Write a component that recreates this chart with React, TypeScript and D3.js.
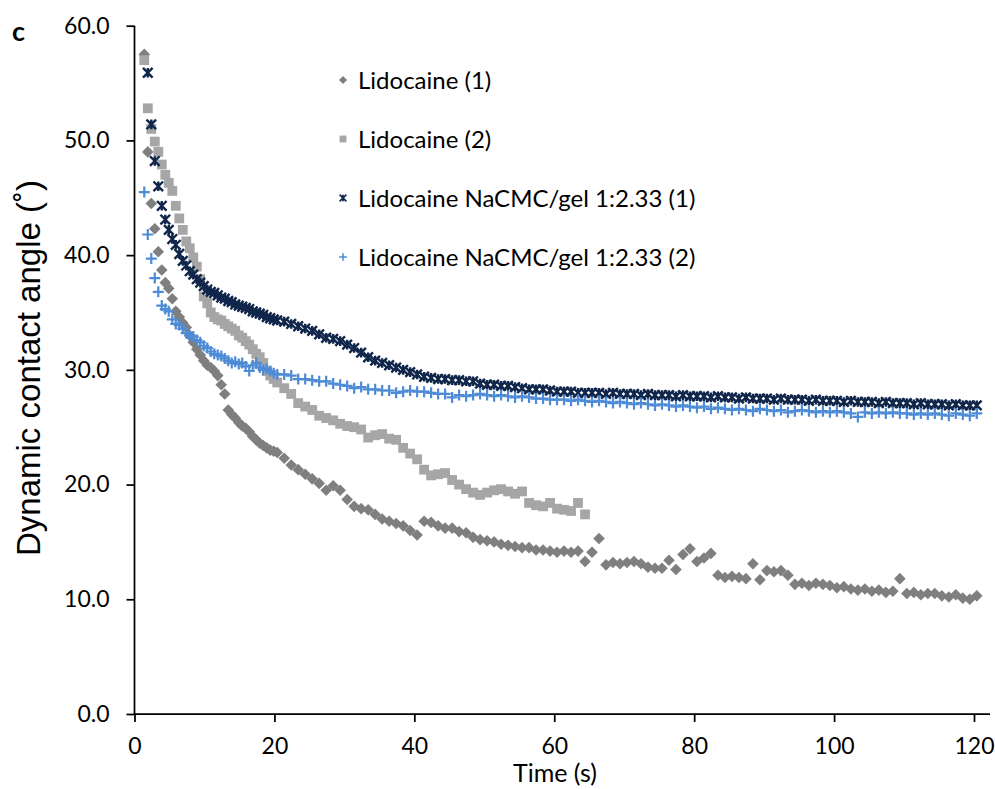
import React, { useEffect, useRef } from "react";
import * as d3 from "d3";

// Time (s) of each reading
const TIMES = [
  1.4, 1.9, 2.4, 2.9, 3.4, 3.9, 4.4, 4.9, 5.4, 5.9,
  6.4, 6.9, 7.4, 7.9, 8.4, 8.9, 9.4, 9.9, 10.4, 10.9,
  11.4, 11.9, 12.4, 12.9, 13.4, 13.9, 14.4, 14.9, 15.4, 15.9,
  16.4, 16.9, 17.4, 17.9, 18.4, 18.9, 19.4, 19.9, 20.4, 21.4,
  22.4, 23.4, 24.4, 25.4, 26.4, 27.4, 28.4, 29.4, 30.4, 31.4,
  32.4, 33.4, 34.4, 35.4, 36.4, 37.4, 38.4, 39.4, 40.4, 41.4,
  42.4, 43.4, 44.4, 45.4, 46.4, 47.4, 48.4, 49.4, 50.4, 51.4,
  52.4, 53.4, 54.4, 55.4, 56.4, 57.4, 58.4, 59.4, 60.4, 61.4,
  62.4, 63.4, 64.4, 65.4, 66.4, 67.4, 68.4, 69.4, 70.4, 71.4,
  72.4, 73.4, 74.4, 75.4, 76.4, 77.4, 78.4, 79.4, 80.4, 81.4,
  82.4, 83.4, 84.4, 85.4, 86.4, 87.4, 88.4, 89.4, 90.4, 91.4,
  92.4, 93.4, 94.4, 95.4, 96.4, 97.4, 98.4, 99.4, 100.4, 101.4,
  102.4, 103.4, 104.4, 105.4, 106.4, 107.4, 108.4, 109.4, 110.4, 111.4,
  112.4, 113.4, 114.4, 115.4, 116.4, 117.4, 118.4, 119.4, 120.4,
];

const LIDO_1 = [
  57.5, 49.0, 44.5, 42.3, 40.3, 38.7, 37.6, 37.1, 36.2, 35.1,
  34.6, 34.1, 33.7, 33.0, 32.4, 31.8, 31.3, 30.8, 30.4, 30.2,
  29.9, 29.5, 28.7, 27.9, 26.5, 26.1, 25.8, 25.4, 25.1, 24.9,
  24.6, 24.2, 23.9, 23.6, 23.4, 23.2, 23.0, 22.9, 22.8, 22.3,
  21.7, 21.3, 20.9, 20.5, 20.1, 19.5, 19.9, 19.5, 18.7, 18.1,
  17.9, 17.8, 17.4, 17.0, 16.8, 16.6, 16.4, 16.0, 15.6, 16.8,
  16.7, 16.4, 16.2, 16.2, 15.9, 15.8, 15.4, 15.2, 15.1, 15.0,
  14.8, 14.7, 14.6, 14.5, 14.5, 14.3, 14.3, 14.2, 14.1, 14.2,
  14.1, 14.2, 13.3, 14.1, 15.3, 13.0, 13.2, 13.1, 13.2, 13.3,
  13.1, 12.8, 12.7, 12.7, 13.4, 12.6, 13.9, 14.4, 13.3, 13.6,
  14.0, 12.1, 11.9, 12.0, 11.9, 11.8, 13.1, 11.7, 12.5, 12.4,
  12.5, 12.1, 11.3, 11.4, 11.2, 11.4, 11.3, 11.2, 11.0, 11.1,
  10.9, 10.8, 10.9, 10.7, 10.8, 10.6, 10.7, 11.8, 10.5, 10.6,
  10.4, 10.5, 10.5, 10.3, 10.2, 10.4, 10.1, 10.0, 10.3,
];

const LIDO_2 = [
  57.0, 52.8, 51.0, 49.9, 49.0, 47.9, 47.0, 46.3, 45.6, 44.3,
  43.2, 42.2, 41.2, 40.6, 39.8, 39.0, 37.9, 36.4, 35.8, 35.0,
  34.6, 34.4, 34.3, 34.0, 33.8, 33.6, 33.4, 33.0, 32.8, 32.5,
  32.2, 31.8, 31.4, 31.1, 30.6, 29.9, 29.5, 29.2, 28.9, 28.4,
  27.9, 27.1, 26.8, 26.5, 26.0, 25.8, 25.6, 25.3, 25.1, 25.0,
  24.8, 24.1, 24.3, 24.4, 24.0, 23.9, 23.2, 22.7, 22.2, 21.3,
  20.8, 20.9, 21.0, 20.4, 20.0, 19.6, 19.3, 19.1, 19.3, 19.5,
  19.6, 19.4, 19.2, 19.4, 18.4, 18.2, 18.1, 18.4, 17.9, 17.8,
  17.7, 18.4, 17.4, null, null, null, null, null, null, null,
  null, null, null, null, null, null, null, null, null, null,
  null, null, null, null, null, null, null, null, null, null,
  null, null, null, null, null, null, null, null, null, null,
  null, null, null, null, null, null, null, null, null, null,
  null, null, null, null, null, null, null, null, null,
];

const GEL_1 = [
  null, 55.9, 51.4, 48.2, 46.0, 44.3, 43.1, 42.2, 41.4, 40.9,
  40.1, 39.5, 39.1, 38.6, 38.3, 37.9, 37.6, 37.3, 37.0, 36.8,
  36.7, 36.5, 36.3, 36.2, 36.0, 35.9, 35.7, 35.6, 35.5, 35.4,
  35.3, 35.1, 35.0, 34.9, 34.8, 34.6, 34.5, 34.4, 34.3, 34.2,
  34.0, 33.8, 33.6, 33.4, 33.1, 32.8, 32.7, 32.5, 32.2, 31.9,
  31.5, 31.1, 30.8, 30.6, 30.4, 30.2, 30.0, 29.8, 29.6, 29.4,
  29.3, 29.2, 29.2, 29.1, 29.1, 29.0, 29.0, 28.8, 28.7, 28.7,
  28.6, 28.6, 28.5, 28.4, 28.3, 28.3, 28.3, 28.2, 28.1, 28.1,
  28.1, 28.0, 28.0, 28.0, 28.0, 27.9, 28.0, 27.9, 27.9, 27.9,
  27.8, 27.9, 27.8, 27.8, 27.8, 27.7, 27.8, 27.7, 27.7, 27.7,
  27.6, 27.7, 27.6, 27.6, 27.5, 27.6, 27.5, 27.5, 27.5, 27.4,
  27.5, 27.4, 27.4, 27.4, 27.3, 27.4, 27.3, 27.3, 27.3, 27.2,
  27.3, 27.2, 27.2, 27.2, 27.1, 27.2, 27.1, 27.1, 27.1, 27.0,
  27.1, 27.0, 27.0, 27.0, 26.9, 27.0, 26.9, 26.9, 26.9,
];

const GEL_2 = [
  45.5, 41.8, 39.7, 38.0, 36.8, 35.6, 35.3, 35.1, 34.4, 34.0,
  33.9, 33.6, 33.2, 33.0, 32.9, 32.6, 32.4, 32.1, 31.9, 31.6,
  31.4, 31.3, 31.2, 31.0, 30.8, 30.6, 30.7, 30.5, 30.6, 30.3,
  29.9, 30.4, 30.6, 30.2, 30.0, 30.1, 29.9, 29.7, 29.6, 29.6,
  29.5, 29.2, 29.2, 29.1, 29.0, 29.0, 28.8, 28.7, 28.6, 28.4,
  28.5, 28.3, 28.3, 28.2, 28.2, 28.0, 28.1, 28.2, 28.1, 28.1,
  28.0, 27.9, 27.9, 27.6, 27.8, 27.7, 27.8, 27.9, 27.8, 27.7,
  27.8, 27.7, 27.6, 27.7, 27.6, 27.5, 27.5, 27.4, 27.4, 27.4,
  27.3, 27.4, 27.3, 27.2, 27.3, 27.2, 27.1, 27.2, 27.1, 27.0,
  27.1, 27.0, 26.9, 27.0, 26.9, 26.8, 26.9, 26.8, 26.7, 26.8,
  26.6, 26.7, 26.6, 26.5, 26.6, 26.5, 26.4, 26.6, 26.5, 26.4,
  26.5, 26.3, 26.4, 26.5, 26.4, 26.3, 26.4, 26.3, 26.4, 26.3,
  26.2, 25.9, 26.3, 26.2, 26.3, 26.2, 26.3, 26.2, 26.2, 26.1,
  26.2, 26.1, 26.2, 26.1, 26.0, 26.2, 26.1, 26.0, 26.2,
];

const X_TICKS = [0, 20, 40, 60, 80, 100, 120];
const Y_TICKS = [0, 10, 20, 30, 40, 50, 60];
const SERIES_NAMES = [
  "Lidocaine (1)",
  "Lidocaine (2)",
  "Lidocaine NaCMC/gel 1:2.33 (1)",
  "Lidocaine NaCMC/gel 1:2.33 (2)",
];
const SERIES_VALUES = [LIDO_1, LIDO_2, GEL_1, GEL_2];
const MARKERS = ["diamond", "square", "star", "plus"];
const COLORS = ["#7f7f7f", "#a6a6a6", "#10264a", "#4e8bd6"];

const W = 995;
const H = 789;
const FONT = "Lato, 'Open Sans', sans-serif";

const x = d3.scaleLinear().domain([0, 120]).range([134.5, 974]);
const y = d3.scaleLinear().domain([0, 60]).range([714, 25.7]);

function Marker({ kind, color, cx, cy, s = 1 }: { kind: string; color: string; cx: number; cy: number; s?: number }) {
  const t = `translate(${cx},${cy})`;
  if (kind === "diamond") {
    const r = 5.8 * s;
    return <path transform={t} d={`M0,${-r}L${r},0L0,${r}L${-r},0Z`} fill={color} />;
  }
  if (kind === "square") {
    const h = 4.9 * s;
    return <rect transform={t} x={-h} y={-h} width={2 * h} height={2 * h} fill={color} />;
  }
  if (kind === "star") {
    const a = 4.8 * s;
    return (
      <path
        transform={t}
        d={`M${-a},${-a}L${a},${a}M${-a},${a}L${a},${-a}M0,${-a}L0,${a}`}
        stroke={color}
        strokeWidth={2.4 * s}
        fill="none"
      />
    );
  }
  const a = 5.5 * s;
  return <path transform={t} d={`M${-a},0H${a}M0,${-a}V${a}`} stroke={color} strokeWidth={2.2 * s} fill="none" />;
}

export default function App() {
  const xAxisRef = useRef<SVGGElement>(null);
  const yAxisRef = useRef<SVGGElement>(null);

  useEffect(() => {
    const gx = d3.select(xAxisRef.current as SVGGElement);
    gx.call(
      d3
        .axisBottom(x)
        .tickValues(X_TICKS)
        .tickSize(8)
        .tickSizeOuter(0)
        .tickPadding(16)
        .tickFormat(d3.format("d") as any)
    );
    gx.select(".domain").remove();
    gx.selectAll(".tick line").attr("stroke", "#000").attr("stroke-width", 1.75);
    gx.selectAll(".tick text").attr("font-family", FONT).attr("font-size", 23).attr("fill", "#000");

    const gy = d3.select(yAxisRef.current as SVGGElement);
    gy.call(
      d3
        .axisLeft(y)
        .tickValues(Y_TICKS)
        .tickSize(8)
        .tickSizeOuter(0)
        .tickPadding(17)
        .tickFormat(d3.format(".1f") as any)
    );
    gy.select(".domain").remove();
    gy.selectAll(".tick line").attr("stroke", "#000").attr("stroke-width", 1.75);
    gy.selectAll(".tick text").attr("font-family", FONT).attr("font-size", 23).attr("fill", "#000");
  }, []);

  return (
    <svg
      width={W}
      height={H}
      viewBox={`0 0 ${W} ${H}`}
      style={{ position: "absolute", left: 0, top: 0, background: "#fff" }}
    >
      <rect width={W} height={H} fill="#fff" />
      {/* axes */}
      <line x1={x(0)} x2={990} y1={y(0)} y2={y(0)} stroke="#000" strokeWidth={1.75} />
      <line x1={x(0)} x2={x(0)} y1={y(0)} y2={y(60)} stroke="#000" strokeWidth={1.75} />
      <g ref={xAxisRef} transform={`translate(0,${y(0)})`} />
      <g ref={yAxisRef} transform={`translate(${x(0)},0)`} />

      {/* data */}
      {SERIES_VALUES.map((vals, si) => (
        <g key={si}>
          {vals.map((v, i) =>
            v == null ? null : (
              <Marker key={i} kind={MARKERS[si]} color={COLORS[si]} cx={x(TIMES[i])} cy={y(v)} />
            )
          )}
        </g>
      ))}

      {/* legend */}
      {SERIES_NAMES.map((name, i) => (
        <g key={name}>
          <Marker kind={MARKERS[i]} color={COLORS[i]} cx={343} cy={80 + i * 59} s={0.7} />
          <text x={358} y={89 + i * 59} fontFamily={FONT} fontSize={24} fill="#000">
            {name}
          </text>
        </g>
      ))}

      {/* titles */}
      <text x={12} y={41} fontFamily={FONT} fontSize={27} fontWeight="bold" fill="#000">
        c
      </text>
      <text x={555} y={782} fontFamily={FONT} fontSize={25} textAnchor="middle" fill="#000">
        Time (s)
      </text>
      <text
        transform={`translate(40,368) rotate(-90)`}
        fontFamily="'Liberation Sans', Arial, sans-serif"
        fontSize={33}
        textAnchor="middle"
        fill="#000"
      >
        Dynamic contact angle (˚)
      </text>
    </svg>
  );
}
